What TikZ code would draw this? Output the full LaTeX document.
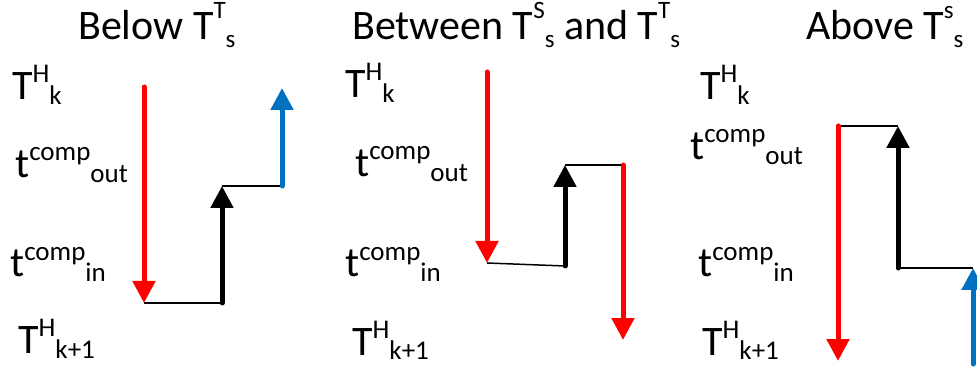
\documentclass[tikz,border=0pt]{standalone}
\usepackage{fontspec}
\setmainfont{Carlito}
\usepackage{tikz}
\usetikzlibrary{arrows.meta}

\definecolor{hotred}{RGB}{255,0,0}
\definecolor{coldblue}{RGB}{0,112,192}

% staggered super/subscript labels
\newcommand{\supsub}[3]{#1\raisebox{17pt}{\fontsize{27}{27}\selectfont #2}\raisebox{-5pt}{\fontsize{27}{27}\selectfont #3}}
\newcommand{\headsupsub}[3]{#1\raisebox{21pt}{\fontsize{25}{25}\selectfont #2}\raisebox{-8pt}{\fontsize{25}{25}\selectfont #3}}

\begin{document}
\begin{tikzpicture}[x=1pt, y=-1pt,
    level/.style={font=\fontsize{42}{48}\selectfont, inner sep=0pt, anchor=base west},
    heading/.style={font=\fontsize{42}{48}\selectfont, inner sep=0pt, anchor=base west},
    flow/.style={line width=5pt, line cap=round, -{Triangle[width=22pt,length=22pt]}},
    link/.style={line width=1.5pt}]
    \useasboundingbox (0,0) rectangle (977,371);
    \clip (0,0) rectangle (977,371);

    % Headings
    \node[heading] (head1) at (78,40) {Below \headsupsub{T}{T}{s}};
    \node[heading] (head2) at (352,40) {Between \headsupsub{T}{S}{s} and \headsupsub{T}{T}{s}};
    \node[heading] (head3) at (806,40) {Above \headsupsub{T}{s}{s}};

    % Levels, panel 1
    \node[level] (hk1)   at (12,100)  {\supsub{T}{H}{k}};
    \node[level] (out1)  at (15,178)  {\supsub{t}{comp}{out}};
    \node[level] (in1)   at (10,277)  {\supsub{t}{comp}{in}};
    \node[level] (hkk1)  at (18,353)  {\supsub{T}{H}{k+1}};

    % Levels, panel 2
    \node[level] (hk2)   at (345,98)  {\supsub{T}{H}{k}};
    \node[level] (out2)  at (355,177) {\supsub{t}{comp}{out}};
    \node[level] (in2)   at (345,277) {\supsub{t}{comp}{in}};
    \node[level] (hkk2)  at (352,355) {\supsub{T}{H}{k+1}};

    % Levels, panel 3
    \node[level] (hk3)   at (700,100) {\supsub{T}{H}{k}};
    \node[level] (out3)  at (690,160) {\supsub{t}{comp}{out}};
    \node[level] (in3)   at (698,277) {\supsub{t}{comp}{in}};
    \node[level] (hkk3)  at (702,355) {\supsub{T}{H}{k+1}};

    % Panel 1: below
    \coordinate (r1top) at (144,87);
    \coordinate (r1bot) at (144,303);
    \coordinate (b1bot) at (222,303);
    \coordinate (b1top) at (222,186);
    \coordinate (u1bot) at (282,186);
    \coordinate (u1top) at (282,88);
    \draw[link] (r1bot) -- (b1bot);
    \draw[link] (b1top) -- (u1bot);
    \draw[flow, hotred] (r1top) -- (r1bot);
    \draw[flow, black] (b1bot) -- (b1top);
    \draw[flow, coldblue] (u1bot) -- (u1top);

    % Panel 2: between
    \coordinate (r2top) at (487,72);
    \coordinate (r2bot) at (487,263);
    \coordinate (b2bot) at (565,266);
    \coordinate (b2top) at (565,165);
    \coordinate (r3top) at (623,165);
    \coordinate (r3bot) at (623,340);
    \draw[link] (r2bot) -- (b2bot);
    \draw[link] (b2top) -- (r3top);
    \draw[flow, hotred] (r2top) -- (r2bot);
    \draw[flow, black] (b2bot) -- (b2top);
    \draw[flow, hotred] (r3top) -- (r3bot);

    % Panel 3: above
    \coordinate (r4top) at (838,126);
    \coordinate (r4bot) at (838,361);
    \coordinate (b3top) at (898,126);
    \coordinate (b3bot) at (898,268);
    \coordinate (u2top) at (973,268);
    \coordinate (u2bot) at (973,364);
    \draw[link] (r4top) -- (b3top);
    \draw[link] (b3bot) -- (u2top);
    \draw[flow, hotred] (r4top) -- (r4bot);
    \draw[flow, black] (b3bot) -- (b3top);
    \draw[flow, coldblue] (u2bot) -- (u2top);
\end{tikzpicture}
\end{document}
